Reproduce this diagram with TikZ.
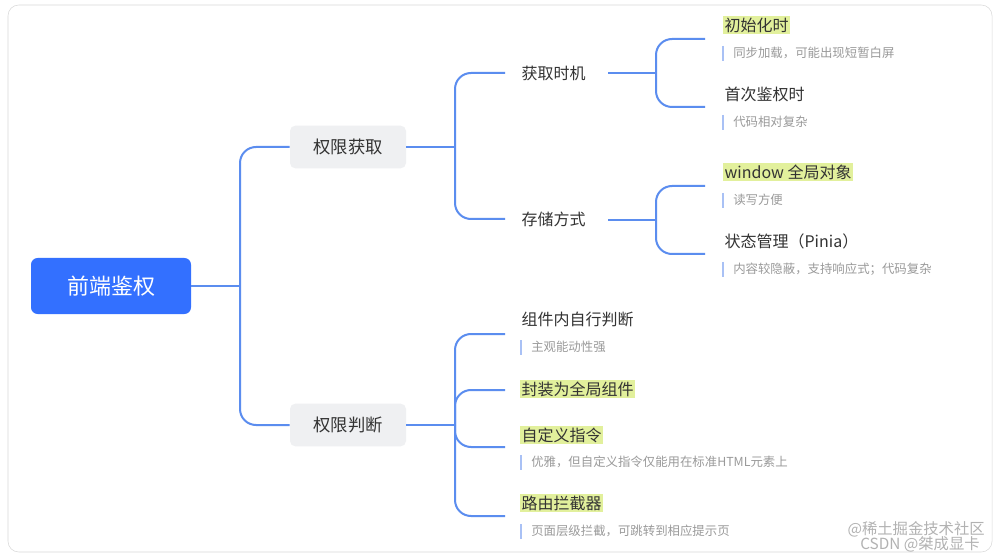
\documentclass[tikz,border=0pt]{standalone}
\usepackage{fontspec}
\setmainfont{Noto Sans CJK SC}
\begin{document}
\begin{tikzpicture}[x=0.75pt,y=-0.75pt,
  conn/.style={draw=linkblue,line width=1.5pt,rounded corners=12pt},
  topic/.style={fill=boxgray,rounded corners=4pt,minimum width=87pt,minimum height=32pt,font=\fontsize{13}{15}\selectfont,text=textdark},
  sub/.style={anchor=west,font=\fontsize{12}{14}\selectfont,text=textdark,inner sep=1pt},
  hl/.style={sub,fill=hlgreen},
  note/.style={anchor=west,font=\fontsize{9.3}{11}\selectfont,text=notegray,inner sep=0pt},
  bar/.style={draw=barblue,line width=1.3pt}]
\definecolor{linkblue}{HTML}{5B8DEF}
\definecolor{boxgray}{HTML}{EFF0F2}
\definecolor{textdark}{HTML}{333333}
\definecolor{hlgreen}{HTML}{E2F09C}
\definecolor{notegray}{HTML}{9A9A9A}
\definecolor{barblue}{HTML}{A9C1F5}
\definecolor{rootblue}{HTML}{3370FF}
\useasboundingbox (0,0) rectangle (998,559);
\fill[white] (0,0) rectangle (998,559);
\draw[draw=black!15,rounded corners=8pt] (8,5) rectangle (992,552);

\node[fill=rootblue,rounded corners=5pt,minimum width=120pt,minimum height=42pt,text=white,font=\fontsize{16.5}{18}\selectfont] (root) at (111,286) {前端鉴权};
\node[topic] (g1) at (348,147) {权限获取};
\node[topic] (g2) at (348,425) {权限判断};

\coordinate (j0) at (240,286);
\draw[conn] (root.east) -- (j0);
\draw[conn] (g1.west) -| (j0) |- (g2.west);

% level 2
\node[sub] (a) at (520,73) {获取时机};
\node[sub] (b) at (520,219) {存储方式};
\coordinate (ca) at (505,73);
\coordinate (cb) at (505,219);
\coordinate (j1) at (455,147);
\draw[conn] (g1.east) -- (j1);
\draw[conn] (ca) -| (j1) |- (cb);

% leaves of a
\coordinate (ja) at (656,73);
\coordinate (a1c) at (705,39);
\coordinate (a2c) at (705,107);
\draw[conn] (608,73) coordinate (as) -- (ja);
\draw[conn] (a1c) -| (ja) |- (a2c);
\node[hl] (a1) at (723,25) {初始化时};
\draw[bar] (723,46) -- (723,61);
\node[note] (a1n) at (733,53) {同步加载，可能出现短暂白屏};
\node[sub] (a2) at (723,94) {首次鉴权时};
\draw[bar] (723,115) -- (723,130);
\node[note] (a2n) at (733,122) {代码相对复杂};

% leaves of b
\coordinate (jb) at (656,220);
\coordinate (b1c) at (705,186);
\coordinate (b2c) at (705,254);
\draw[conn] (608,220) coordinate (bs) -- (jb);
\draw[conn] (b1c) -| (jb) |- (b2c);
\node[hl] (b1) at (723,172) {window 全局对象};
\draw[bar] (723,193) -- (723,208);
\node[note] (b1n) at (733,200) {读写方便};
\node[sub] (b2) at (723,241) {状态管理（Pinia）};
\draw[bar] (723,262) -- (723,277);
\node[note] (b2n) at (733,269) {内容较隐蔽，支持响应式；代码复杂};

% leaves of g2
\coordinate (j2) at (455,425);
\coordinate (c1c) at (505,334);
\coordinate (c2c) at (505,390);
\coordinate (c3c) at (505,447);
\coordinate (c4c) at (505,516);
\draw[conn] (g2.east) -- (j2);
\draw[conn] (c1c) -| (j2) |- (c4c);
\draw[conn] (c2c) -| (j2);
\draw[conn] (c3c) -| (j2);
\node[sub] (c1) at (520,319) {组件内自行判断};
\draw[bar] (521,340) -- (521,355);
\node[note] (c1n) at (531,347) {主观能动性强};
\node[hl] (c2) at (520,389) {封装为全局组件};
\node[hl] (c3) at (520,435) {自定义指令};
\draw[bar] (521,455) -- (521,470);
\node[note] (c3n) at (531,462) {优雅，但自定义指令仅能用在标准HTML元素上};
\node[hl] (c4) at (520,503) {路由拦截器};
\draw[bar] (521,524) -- (521,539);
\node[note] (c4n) at (531,531) {页面层级拦截，可跳转到相应提示页};

\node[anchor=east,text=black!30,font=\fontsize{11.5}{13}\selectfont,inner sep=0pt] (wm1) at (985,529) {@稀土掘金技术社区};
\node[anchor=east,text=black!30,font=\fontsize{11.5}{13}\selectfont,inner sep=0pt] (wm2) at (980,544) {CSDN @桀成显卡};
\end{tikzpicture}
\end{document}
